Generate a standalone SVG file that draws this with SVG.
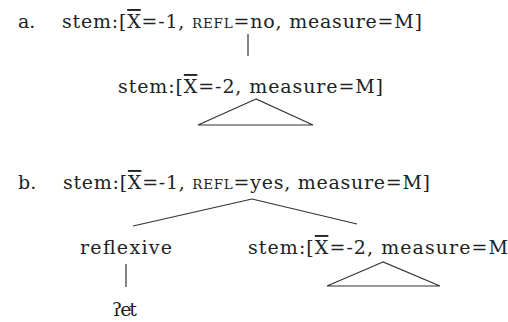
<svg xmlns="http://www.w3.org/2000/svg" width="508" height="322" viewBox="0 0 508 322">
<style>
text{font-family:"DejaVu Serif","Liberation Serif",serif;font-size:19px;fill:#222}
.sc{font-size:13.5px}
.ov{text-decoration:overline}
.e line,.e path{stroke:#333;stroke-width:1.2;fill:none}
</style>
<rect width="508" height="322" fill="#fff"/>
<g id="label-a"><text x="18" y="28">a.</text></g>
<g id="a-root"><text x="62" y="28" textLength="360" lengthAdjust="spacing">stem:[<tspan class="ov">X</tspan>=-1, <tspan class="sc">REFL</tspan>=no, measure=M]</text></g>
<g id="a-child"><text x="118" y="93" textLength="265" lengthAdjust="spacing">stem:[<tspan class="ov">X</tspan>=-2, measure=M]</text></g>
<g id="label-b"><text x="18" y="189">b.</text></g>
<g id="b-root"><text x="63" y="189" textLength="367" lengthAdjust="spacing">stem:[<tspan class="ov">X</tspan>=-1, <tspan class="sc">REFL</tspan>=yes, measure=M]</text></g>
<g id="b-refl"><text x="80" y="254" textLength="92" lengthAdjust="spacing">reflexive</text></g>
<g id="b-stem"><text x="248" y="254" textLength="260" lengthAdjust="spacing">stem:[<tspan class="ov">X</tspan>=-2, measure=M</text></g>
<g id="b-et"><text x="112" y="316" textLength="25" lengthAdjust="spacing">ʔet</text></g>
<g id="edges" class="e">
<line x1="248" y1="34" x2="248" y2="56"/>
<path d="M256 99 L198 125 L313 125 Z"/>
<line x1="252" y1="199" x2="133" y2="226"/>
<line x1="252" y1="199" x2="357" y2="224"/>
<line x1="126" y1="264" x2="126" y2="287"/>
<path d="M383 262 L327 286 L440 286 Z"/>
</g>
</svg>
